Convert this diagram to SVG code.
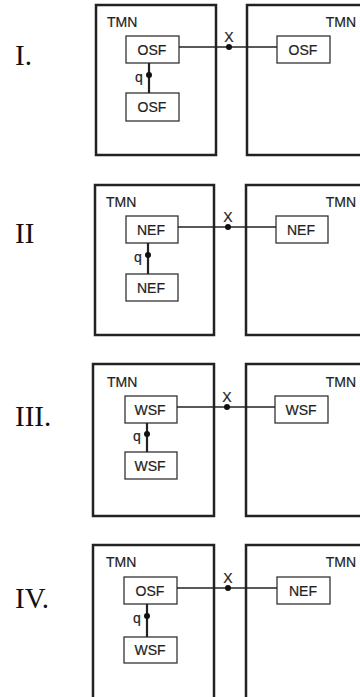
<svg xmlns="http://www.w3.org/2000/svg" width="360" height="697" viewBox="0 0 360 697">
<style>
.bg{fill:#fff}
.outer{fill:none;stroke:#222;stroke-width:2.5}
.inner{fill:#fff;stroke:#333;stroke-width:1.3}
.lbl{font-family:"Liberation Sans",Arial,sans-serif;font-size:14px;fill:#222;stroke:#222;stroke-width:0.2;text-anchor:middle}
.tmn{font-family:"Liberation Sans",Arial,sans-serif;font-size:14px;fill:#222;stroke:#222;stroke-width:0.2}
.small{font-family:"Liberation Sans",Arial,sans-serif;font-size:14px;fill:#222;stroke:#222;stroke-width:0.2;text-anchor:middle}
.num{font-family:"Liberation Serif","Times New Roman",serif;font-size:29px;fill:#111}
.x{stroke:#222;stroke-width:1.3;fill:none}
.q{stroke:#222;stroke-width:2.2;fill:none}
.dot{fill:#111}
</style>
<rect class="bg" x="0" y="0" width="360" height="697"/>

<g id="panel1">
  <text class="num" x="15" y="65">I.</text>
  <g id="p1-tmn-left"><rect class="outer" x="96" y="5" width="120" height="150"/><text class="tmn" x="107" y="27">TMN</text></g>
  <g id="p1-tmn-right"><rect class="outer" x="247" y="5" width="120" height="150"/><text class="tmn" x="356" y="27" text-anchor="end">TMN</text></g>
  <g id="p1-osf-top"><rect class="inner" x="126" y="36" width="53" height="27"/><text class="lbl" x="152" y="55">OSF</text></g>
  <g id="p1-osf-bottom"><rect class="inner" x="126" y="93" width="53" height="28"/><text class="lbl" x="152" y="112">OSF</text></g>
  <g id="p1-osf-right"><rect class="inner" x="277" y="36" width="53" height="27"/><text class="lbl" x="303" y="55">OSF</text></g>
</g>

<g id="panel2">
  <text class="num" x="15" y="243">II</text>
  <g id="p2-tmn-left"><rect class="outer" x="95" y="185" width="119" height="150"/><text class="tmn" x="106" y="207">TMN</text></g>
  <g id="p2-tmn-right"><rect class="outer" x="246" y="185" width="120" height="150"/><text class="tmn" x="356" y="207" text-anchor="end">TMN</text></g>
  <g id="p2-nef-top"><rect class="inner" x="126" y="216" width="52" height="27"/><text class="lbl" x="151" y="235">NEF</text></g>
  <g id="p2-nef-bottom"><rect class="inner" x="126" y="274" width="52" height="27"/><text class="lbl" x="151" y="293">NEF</text></g>
  <g id="p2-nef-right"><rect class="inner" x="276" y="216" width="52" height="27"/><text class="lbl" x="301" y="235">NEF</text></g>
</g>

<g id="panel3">
  <text class="num" x="15" y="426">III.</text>
  <g id="p3-tmn-left"><rect class="outer" x="93" y="364" width="121" height="152"/><text class="tmn" x="107" y="387">TMN</text></g>
  <g id="p3-tmn-right"><rect class="outer" x="246" y="364" width="120" height="152"/><text class="tmn" x="356" y="387" text-anchor="end">TMN</text></g>
  <g id="p3-wsf-top"><rect class="inner" x="125" y="396" width="52" height="27"/><text class="lbl" x="150" y="415">WSF</text></g>
  <g id="p3-wsf-bottom"><rect class="inner" x="125" y="452" width="52" height="27"/><text class="lbl" x="150" y="471">WSF</text></g>
  <g id="p3-wsf-right"><rect class="inner" x="275" y="396" width="53" height="27"/><text class="lbl" x="301" y="415">WSF</text></g>
</g>

<g id="panel4">
  <text class="num" x="15" y="608">IV.</text>
  <g id="p4-tmn-left"><rect class="outer" x="93" y="545" width="121" height="160"/><text class="tmn" x="106" y="567">TMN</text></g>
  <g id="p4-tmn-right"><rect class="outer" x="246" y="545" width="120" height="160"/><text class="tmn" x="356" y="567" text-anchor="end">TMN</text></g>
  <g id="p4-osf-top"><rect class="inner" x="124" y="577" width="53" height="27"/><text class="lbl" x="150" y="596">OSF</text></g>
  <g id="p4-wsf-bottom"><rect class="inner" x="124" y="637" width="53" height="26"/><text class="lbl" x="150" y="655">WSF</text></g>
  <g id="p4-nef-right"><rect class="inner" x="277" y="577" width="53" height="27"/><text class="lbl" x="303" y="596">NEF</text></g>
</g>

<g id="connectors">
  <line class="x" x1="179" y1="47" x2="277" y2="47"/>
  <circle class="dot" cx="229" cy="47" r="3"/>
  <text class="small" x="229" y="42">X</text>
  <line class="q" x1="149" y1="63" x2="149" y2="93"/>
  <circle class="dot" cx="149" cy="75" r="3"/>
  <text class="small" x="139" y="82">q</text>

  <line class="x" x1="178" y1="227" x2="276" y2="227"/>
  <circle class="dot" cx="228" cy="227" r="3"/>
  <text class="small" x="228" y="222">X</text>
  <line class="q" x1="148" y1="243" x2="148" y2="274"/>
  <circle class="dot" cx="148" cy="255" r="3"/>
  <text class="small" x="138" y="262">q</text>

  <line class="x" x1="177" y1="407" x2="275" y2="407"/>
  <circle class="dot" cx="227" cy="407" r="3"/>
  <text class="small" x="227" y="402">X</text>
  <line class="q" x1="147" y1="423" x2="147" y2="452"/>
  <circle class="dot" cx="147" cy="434" r="3"/>
  <text class="small" x="137" y="441">q</text>

  <line class="x" x1="177" y1="588" x2="277" y2="588"/>
  <circle class="dot" cx="228" cy="588" r="3"/>
  <text class="small" x="228" y="583">X</text>
  <line class="q" x1="147" y1="604" x2="147" y2="637"/>
  <circle class="dot" cx="147" cy="616" r="3"/>
  <text class="small" x="137" y="623">q</text>
</g>
</svg>
